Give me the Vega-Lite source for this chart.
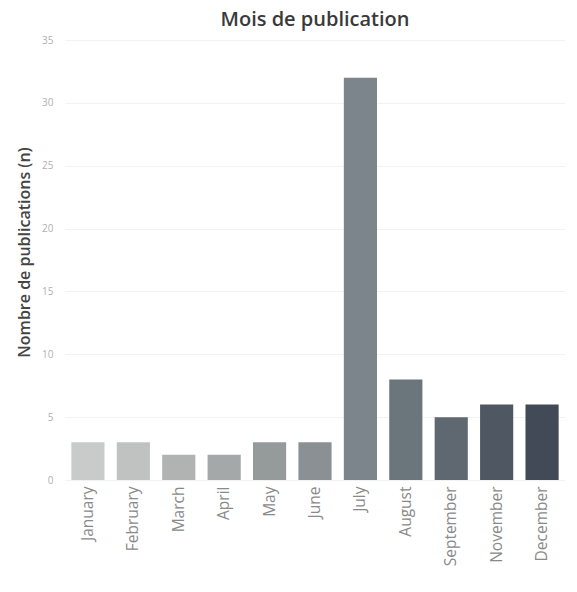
{
  "$schema": "https://vega.github.io/schema/vega-lite/v6.json",
  "autosize": {"type": "none"},
  "width": 500,
  "height": 440,
  "padding": {"left": 65, "top": 40, "right": 12, "bottom": 112},
  "background": "white",
  "title": {
    "text": "Mois de publication",
    "font": "Open Sans",
    "fontSize": 20,
    "fontWeight": 600,
    "color": "#3a3a3a",
    "anchor": "middle",
    "offset": 5
  },
  "config": {
    "view": {"stroke": null},
    "axis": {"labelFont": "Open Sans", "titleFont": "Open Sans"}
  },
  "data": {
    "values": [
      {"mois": "January", "n": 3},
      {"mois": "February", "n": 3},
      {"mois": "March", "n": 2},
      {"mois": "April", "n": 2},
      {"mois": "May", "n": 3},
      {"mois": "June", "n": 3},
      {"mois": "July", "n": 32},
      {"mois": "August", "n": 8},
      {"mois": "September", "n": 5},
      {"mois": "November", "n": 6},
      {"mois": "December", "n": 6}
    ]
  },
  "mark": {"type": "bar"},
  "encoding": {
    "x": {
      "field": "mois",
      "type": "nominal",
      "sort": null,
      "scale": {"paddingInner": 0.27, "paddingOuter": 0.14},
      "axis": {
        "title": null,
        "labelAngle": -90,
        "labelFontSize": 15.5,
        "labelColor": "#8a8a8a",
        "labelPadding": 6,
        "ticks": false,
        "domain": false
      }
    },
    "y": {
      "field": "n",
      "type": "quantitative",
      "scale": {"domain": [0, 35], "nice": false},
      "axis": {
        "title": "Nombre de publications (n)",
        "titleFontSize": 16,
        "titleFontWeight": 600,
        "titleColor": "#444444",
        "titlePadding": 9,
        "titleY": 212,
        "values": [0, 5, 10, 15, 20, 25, 30, 35],
        "labelFontSize": 10,
        "labelColor": "#b0b0b0",
        "labelPadding": 12,
        "ticks": false,
        "domain": false,
        "gridColor": "#f2f2f2",
        "gridWidth": 1
      }
    },
    "color": {
      "field": "mois",
      "type": "nominal",
      "legend": null,
      "scale": {
        "domain": ["January", "February", "March", "April", "May", "June", "July", "August", "September", "November", "December"],
        "range": ["#c9caca", "#c0c2c2", "#b1b2b2", "#a5a8a8", "#959b9b", "#8a9093", "#7b858b", "#6b757c", "#5f6871", "#4f5762", "#434a57"]
      }
    }
  }
}
